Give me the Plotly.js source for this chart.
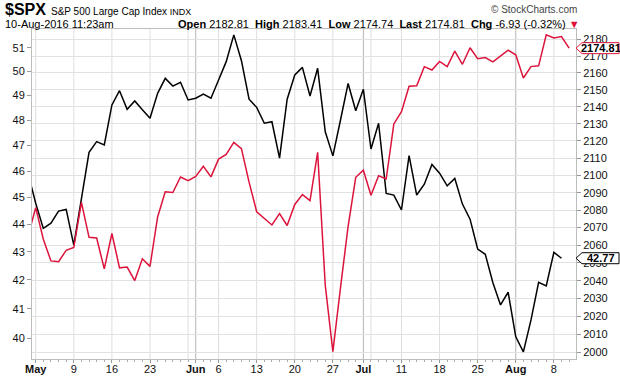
<!DOCTYPE html>
<html>
<head>
<meta charset="utf-8">
<script src="https://cdn.plot.ly/plotly-3.0.1.min.js"></script>
<style>html,body{margin:0;padding:0;background:#fff;}#chart{width:620px;height:376px;}</style>
</head>
<body>
<div id="chart"></div>
<script>
// Trading days shown (Apr 29 – Aug 10, 2016)
const dates = ['2016-04-29',
 '2016-05-02','2016-05-03','2016-05-04','2016-05-05','2016-05-06',
 '2016-05-09','2016-05-10','2016-05-11','2016-05-12','2016-05-13',
 '2016-05-16','2016-05-17','2016-05-18','2016-05-19','2016-05-20',
 '2016-05-23','2016-05-24','2016-05-25','2016-05-26','2016-05-27',
 '2016-05-31','2016-06-01','2016-06-02','2016-06-03',
 '2016-06-06','2016-06-07','2016-06-08','2016-06-09','2016-06-10',
 '2016-06-13','2016-06-14','2016-06-15','2016-06-16','2016-06-17',
 '2016-06-20','2016-06-21','2016-06-22','2016-06-23','2016-06-24',
 '2016-06-27','2016-06-28','2016-06-29','2016-06-30','2016-07-01',
 '2016-07-05','2016-07-06','2016-07-07','2016-07-08',
 '2016-07-11','2016-07-12','2016-07-13','2016-07-14','2016-07-15',
 '2016-07-18','2016-07-19','2016-07-20','2016-07-21','2016-07-22',
 '2016-07-25','2016-07-26','2016-07-27','2016-07-28','2016-07-29',
 '2016-08-01','2016-08-02','2016-08-03','2016-08-04','2016-08-05',
 '2016-08-08','2016-08-09','2016-08-10'];

// $SPX close (right axis)
const spx = [2065.30,
 2081.43,2063.37,2051.12,2050.63,2057.14,
 2058.69,2084.39,2064.46,2064.11,2046.61,
 2066.66,2047.21,2047.63,2040.04,2052.32,
 2048.04,2076.06,2090.54,2090.10,2099.06,
 2096.95,2099.33,2105.26,2099.13,
 2109.41,2112.13,2119.12,2115.48,2096.07,
 2079.06,2075.32,2071.50,2077.99,2071.22,
 2083.25,2088.90,2085.45,2113.32,2037.41,
 2000.54,2036.09,2070.77,2098.86,2102.95,
 2088.55,2099.73,2097.90,2129.90,
 2137.16,2152.14,2152.43,2163.75,2161.74,
 2166.89,2163.78,2173.02,2165.17,2175.03,
 2168.48,2169.18,2166.58,2170.06,2173.60,
 2170.84,2157.03,2163.79,2164.25,2182.87,
 2180.89,2181.74,2174.81];

// Overlay series (left axis), ends Aug 9
const overlay = [45.92,
 44.78,43.85,44.04,44.49,44.55,
 43.24,44.95,46.73,47.15,47.02,
 48.62,49.20,48.44,48.78,48.42,
 48.08,49.09,49.71,49.39,49.55,
 48.82,48.89,49.06,48.89,
 49.64,50.41,51.55,50.45,48.85,
 48.52,47.88,47.94,46.50,48.85,
 49.85,50.17,48.98,50.13,47.54,
 46.59,48.01,49.50,48.38,49.26,
 46.86,47.88,45.15,45.09,
 44.53,46.60,45.09,45.50,46.26,
 45.92,45.44,45.72,44.75,44.19,
 43.10,42.91,41.90,41.13,41.57,
 40.05,39.55,40.62,41.92,41.79,
 42.98,42.77];

const tickDates = ['2016-05-02','2016-05-09','2016-05-16','2016-05-23','2016-06-01','2016-06-06','2016-06-13','2016-06-20','2016-06-27','2016-07-01','2016-07-11','2016-07-18','2016-07-25','2016-08-01','2016-08-08'];
const tickLabels = ['May','9','16','23','Jun','6','13','20','27','Jul','11','18','25','Aug','8'];
const monthLabels = ['May','Jun','Jul','Aug'];
const weekGridDates = ['2016-05-02','2016-05-09','2016-05-16','2016-05-23','2016-05-31','2016-06-06','2016-06-13','2016-06-20','2016-06-27','2016-07-05','2016-07-11','2016-07-18','2016-07-25','2016-08-08'];
const monthGridDates = ['2016-06-01','2016-07-01','2016-08-01'];
const leftTicks = [40,41,42,43,44,45,46,47,48,49,50,51];
const rightTicks = [2000,2010,2020,2030,2040,2050,2060,2070,2080,2090,2100,2110,2120,2130,2140,2150,2160,2170,2180];

const idx = d => dates.indexOf(d);
const xs = dates.map((d,i)=>i);

const FONT = 'Liberation Sans, Arial, sans-serif';
const L = 32, R = 576, T = 29, B = 359;
const px = x => (x - L) / (R - L);
const py = y => (B - y) / (B - T);

const yRange = [1.594544, 1.714369];
const y2Range = [3.300265, 3.339710];
const yPaper = (v, r) => (Math.log10(v) - r[0]) / (r[1] - r[0]);

const shapes = [];
weekGridDates.forEach(d => shapes.push({type:'line', xref:'x', yref:'paper', x0:idx(d), x1:idx(d), y0:0, y1:1, layer:'below', line:{color:'#dedede', width:1}}));
monthGridDates.forEach(d => shapes.push({type:'line', xref:'x', yref:'paper', x0:idx(d), x1:idx(d), y0:0, y1:1, layer:'below', line:{color:'#b5b5b5', width:1}}));

function tag(yp, color) {
  const h = 5.5 / (B - T);
  const xt = px(576), xb = px(582), xr = px(619);
  return {type:'path', xref:'paper', yref:'paper', layer:'above',
    path:`M ${xt} ${yp} L ${xb} ${yp+h} L ${xr} ${yp+h} L ${xr} ${yp-h} L ${xb} ${yp-h} Z`,
    fillcolor:'#ffffff', line:{color:color, width:1}};
}
const lastSpx = spx[spx.length-1];
const lastOv = overlay[overlay.length-1];
const ypS = yPaper(lastSpx, y2Range);
const ypO = yPaper(lastOv, yRange);
shapes.push(tag(ypS, '#dc143c'));
shapes.push(tag(ypO, '#000000'));

const annotations = [
  {xref:'paper', yref:'paper', x:px(3), y:py(10), xanchor:'left', yanchor:'middle', showarrow:false, text:'<b>$SPX</b>', font:{family:FONT, size:16, color:'#000'}},
  {xref:'paper', yref:'paper', x:px(49), y:py(11), xanchor:'left', yanchor:'middle', showarrow:false,
   text:'S&amp;P 500 Large Cap Index <span style="font-size:9px">INDX</span>', font:{family:FONT, size:10, color:'#000'}},
  {xref:'paper', yref:'paper', x:px(579), y:py(10), xanchor:'right', yanchor:'middle', showarrow:false, text:'© StockCharts.com', font:{family:FONT, size:10, color:'#444'}},
  {xref:'paper', yref:'paper', x:px(3), y:py(24), xanchor:'left', yanchor:'middle', showarrow:false, text:'10-Aug-2016 11:23am', font:{family:FONT, size:11, color:'#000'}},
  {xref:'paper', yref:'paper', x:px(582), y:py(24), xanchor:'right', yanchor:'middle', showarrow:false,
   text:'<b>Open</b> 2182.81  <b>High</b> 2183.41  <b>Low</b> 2174.74  <b>Last</b> 2174.81  <b>Chg</b> -6.93 (-0.32%) <span style="color:#dc143c">▼</span>',
   font:{family:FONT, size:11, color:'#000'}},
  {xref:'paper', yref:'paper', x:px(600.5), y:ypS, xanchor:'center', yanchor:'middle', showarrow:false, text:'<b>'+lastSpx.toFixed(2)+'</b>', font:{family:FONT, size:11, color:'#000'}},
  {xref:'paper', yref:'paper', x:px(600.5), y:ypO, xanchor:'center', yanchor:'middle', showarrow:false, text:'<b>'+lastOv.toFixed(2)+'</b>', font:{family:FONT, size:11, color:'#000'}}
];

const ticktext = tickLabels.map(t => monthLabels.includes(t) ? '<b>'+t+'</b>' : t);

const traces = [
  {x: xs.slice(0, overlay.length), y: overlay, type:'scatter', mode:'lines', yaxis:'y', name:'overlay', line:{color:'#000000', width:1.5}, hoverinfo:'skip'},
  {x: xs, y: spx, type:'scatter', mode:'lines', yaxis:'y2', name:'$SPX', line:{color:'#dc143c', width:1.5}, hoverinfo:'skip'}
];

const layout = {
  width:620, height:376,
  margin:{l:L, r:620-R, t:T, b:376-B, pad:0},
  paper_bgcolor:'#ffffff', plot_bgcolor:'#ffffff',
  showlegend:false,
  font:{family:FONT, size:11, color:'#111'},
  xaxis:{range:[0.514, 71.906], tickmode:'array', tickvals:tickDates.map(idx), ticktext:ticktext,
    ticks:'outside', ticklen:3, tickcolor:'#999', showgrid:false, zeroline:false,
    showline:true, linecolor:'#bdbdbd', linewidth:1, mirror:true, ticklabelstandoff:-3,
    tickfont:{family:FONT, size:11, color:'#111'},
    minor:{tickmode:'linear', tick0:0, dtick:1, ticks:'outside', ticklen:2, tickcolor:'#aaaaaa', showgrid:false}},
  yaxis:{type:'log', range:yRange, tickmode:'array', tickvals:leftTicks, ticktext:leftTicks.map(String),
    ticks:'outside', ticklen:4, tickcolor:'#999', showgrid:false, zeroline:false,
    showline:true, linecolor:'#bdbdbd', linewidth:1, mirror:true,
    tickfont:{family:FONT, size:11, color:'#111'}},
  yaxis2:{type:'log', overlaying:'y', side:'right', range:y2Range, tickmode:'array', tickvals:rightTicks, ticktext:rightTicks.map(String),
    ticks:'outside', ticklen:4, tickcolor:'#999', showgrid:true, gridcolor:'#e2e2e2', gridwidth:1, zeroline:false, showline:false,
    tickfont:{family:FONT, size:11, color:'#111'}},
  shapes:shapes,
  annotations:annotations
};

Plotly.newPlot('chart', traces, layout, {staticPlot:true, displayModeBar:false});
</script>
</body>
</html>
